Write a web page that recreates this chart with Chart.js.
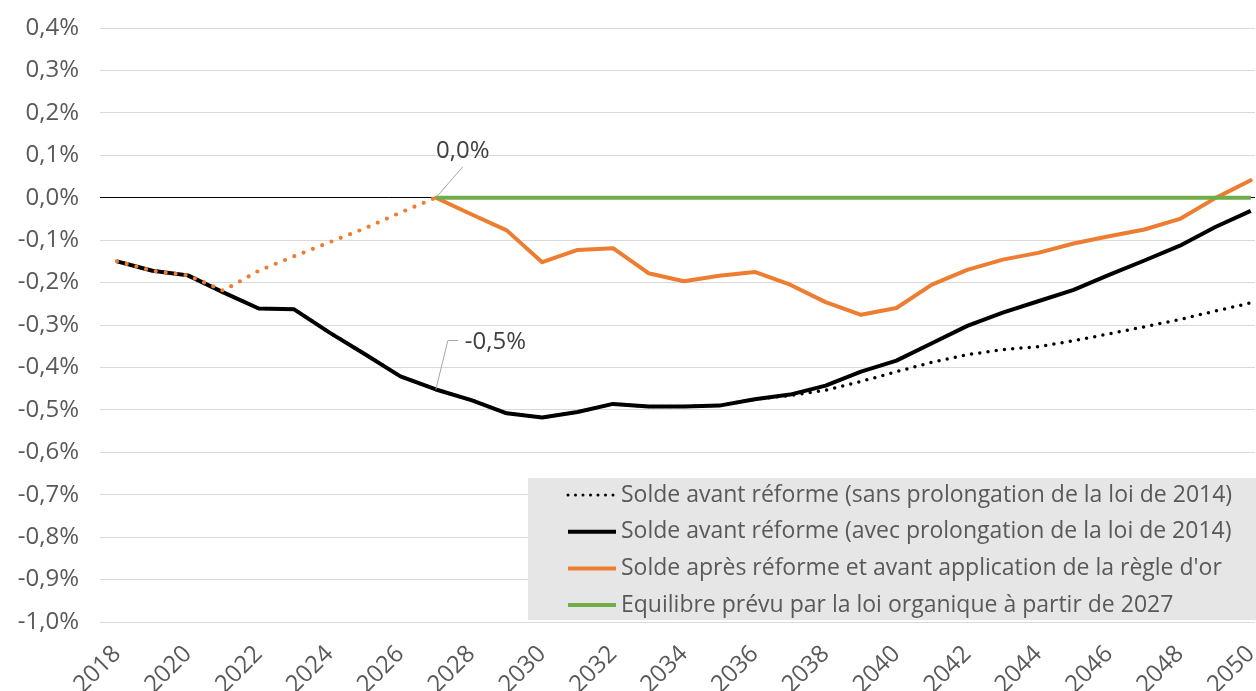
<!DOCTYPE html>
<html lang="fr">
<head>
<meta charset="utf-8">
<title>Solde du système de retraite</title>
<script src="https://cdn.jsdelivr.net/npm/chart.js@4.4.1/dist/chart.umd.min.js"></script>
<style>
    html, body { margin: 0; padding: 0; background: #ffffff; }
</style>
</head>
<body>
<canvas id="soldeChart" width="1256" height="691"></canvas>
<script>
// Solde en % du PIB, 2018-2050
const years = [2018, 2019, 2020, 2021, 2022, 2023, 2024, 2025, 2026, 2027, 2028, 2029, 2030,
    2031, 2032, 2033, 2034, 2035, 2036, 2037, 2038, 2039, 2040, 2041, 2042, 2043, 2044,
    2045, 2046, 2047, 2048, 2049, 2050];

const soldeSansProlongation = [-0.150, -0.172, -0.183, -0.223, -0.261, -0.263, -0.318, -0.369,
    -0.421, -0.452, -0.477, -0.508, -0.518, -0.505, -0.486, -0.492, -0.492, -0.490, -0.475,
    -0.466, -0.454, -0.433, -0.410, -0.388, -0.370, -0.358, -0.351, -0.337, -0.321, -0.304,
    -0.287, -0.267, -0.248];

const soldeAvecProlongation = [-0.150, -0.172, -0.183, -0.223, -0.261, -0.263, -0.318, -0.369,
    -0.421, -0.452, -0.477, -0.508, -0.518, -0.505, -0.486, -0.492, -0.492, -0.490, -0.475,
    -0.464, -0.443, -0.410, -0.384, -0.343, -0.302, -0.271, -0.244, -0.217, -0.182, -0.148,
    -0.113, -0.069, -0.031];

const soldeApresReforme = [-0.150, -0.172, -0.183, -0.219, -0.172, -0.138, -0.105, -0.072,
    -0.035, 0.000, -0.039, -0.077, -0.152, -0.123, -0.119, -0.178, -0.197, -0.184, -0.175,
    -0.205, -0.246, -0.276, -0.260, -0.205, -0.170, -0.146, -0.130, -0.108, -0.091, -0.075,
    -0.050, -0.001, 0.041];

const equilibreLoiOrganique = [null, null, null, null, null, null, null, null, null,
    0, 0, 0, 0, 0, 0, 0, 0, 0, 0, 0, 0, 0, 0, 0, 0, 0, 0, 0, 0, 0, 0, 0, 0];

const seriesLabels = [
    'Solde avant réforme (sans prolongation de la loi de 2014)',
    'Solde avant réforme (avec prolongation de la loi de 2014)',
    'Solde après réforme et avant application de la règle d\'or',
    'Equilibre prévu par la loi organique à partir de 2027'
];

// the orange series is dotted until the rule starts applying
const regleOrYear = 2027;

const FONT = '"Open Sans", Lato, sans-serif';
const TEXT_GREY = '#595959';

const toPoints = (values) => years.map((yr, i) => ({ x: yr, y: values[i] }));

const formatPct = (v) => {
    if (Math.abs(v) < 1e-9) v = 0;
    return v.toFixed(1).replace('.', ',') + '%';
};

// little leader-line labels on two points
const calloutPlugin = {
    id: 'callouts',
    afterDatasetsDraw(chart) {
        const { ctx, scales: { x, y } } = chart;
        const i = years.indexOf(regleOrYear);

        ctx.save();
        ctx.strokeStyle = '#a6a6a6';
        ctx.lineWidth = 1;
        ctx.fillStyle = '#404040';
        ctx.font = '24px ' + FONT;

        // orange point
        let px = x.getPixelForValue(years[i]);
        let py = y.getPixelForValue(soldeApresReforme[i]);
        ctx.beginPath();
        ctx.moveTo(px, py);
        ctx.lineTo(px + 27, py - 31);
        ctx.stroke();
        ctx.textAlign = 'center';
        ctx.textBaseline = 'middle';
        ctx.fillText(formatPct(soldeApresReforme[i]), px + 27, py - 47);

        // black point
        px = x.getPixelForValue(years[i]);
        py = y.getPixelForValue(soldeAvecProlongation[i]);
        ctx.beginPath();
        ctx.moveTo(px, py);
        ctx.lineTo(px + 12, py - 49);
        ctx.lineTo(px + 22, py - 49);
        ctx.stroke();
        ctx.textAlign = 'left';
        ctx.fillText(formatPct(soldeAvecProlongation[i]), px + 29, py - 47);
        ctx.restore();
    }
};

// grey legend box sitting inside the plot area
const legendBoxPlugin = {
    id: 'legendBox',
    afterDraw(chart) {
        const { ctx } = chart;
        const boxLeft = 528, boxTop = 478, boxRight = 1256, boxBottom = 620;
        ctx.save();
        ctx.fillStyle = '#e6e6e6';
        ctx.fillRect(boxLeft, boxTop, boxRight - boxLeft, boxBottom - boxTop);

        ctx.font = '23px ' + FONT;
        ctx.textAlign = 'left';
        ctx.textBaseline = 'middle';
        chart.data.datasets.forEach((ds, k) => {
            const rowY = 495 + k * 36.7;
            ctx.beginPath();
            ctx.strokeStyle = ds.borderColor;
            ctx.lineWidth = k === 0 ? 3 : 4;
            ctx.lineCap = k === 0 ? 'round' : 'butt';
            ctx.setLineDash(k === 0 ? [0, 7.5] : []);
            ctx.moveTo(568, rowY);
            ctx.lineTo(616, rowY);
            ctx.stroke();
            ctx.setLineDash([]);
            ctx.fillStyle = TEXT_GREY;
            ctx.fillText(ds.label, 621, rowY);
        });
        ctx.restore();
    }
};

const ctx = document.getElementById('soldeChart').getContext('2d');

new Chart(ctx, {
    type: 'line',
    data: {
        datasets: [{
            label: seriesLabels[0],
            data: toPoints(soldeSansProlongation),
            borderColor: '#000000',
            borderWidth: 3.5,
            borderDash: [0, 8.3],
            borderCapStyle: 'round',
            order: 3
        }, {
            label: seriesLabels[1],
            data: toPoints(soldeAvecProlongation),
            borderColor: '#000000',
            borderWidth: 4,
            order: 2
        }, {
            label: seriesLabels[2],
            data: toPoints(soldeApresReforme),
            borderColor: '#ED7D31',
            borderWidth: 4,
            borderCapStyle: 'round',
            segment: {
                borderDash: c => years[c.p1DataIndex] <= regleOrYear ? [0, 10] : undefined,
                borderWidth: c => years[c.p1DataIndex] <= regleOrYear ? 4.2 : undefined
            },
            order: 1
        }, {
            label: seriesLabels[3],
            data: toPoints(equilibreLoiOrganique),
            borderColor: '#70AD47',
            borderWidth: 4,
            order: 0
        }]
    },
    options: {
        responsive: false,
        animation: false,
        layout: { padding: { top: 28, right: 1, left: 0, bottom: 0 } },
        elements: {
            point: { radius: 0, hoverRadius: 0 },
            line: { tension: 0, borderJoinStyle: 'round' }
        },
        plugins: {
            legend: { display: false },
            tooltip: { enabled: false }
        },
        scales: {
            x: {
                type: 'linear',
                min: years[0] - 0.48,
                max: years[years.length - 1] + 0.12,
                grid: { display: false, drawTicks: false },
                border: { display: false },
                afterBuildTicks: (scale) => {
                    scale.ticks = years.filter(yr => yr % 2 === 0).map(v => ({ value: v }));
                },
                afterFit: (scale) => {
                    scale.height = 69;
                    scale.paddingLeft = 0;
                    scale.paddingRight = 0;
                },
                ticks: {
                    autoSkip: false,
                    minRotation: 45,
                    maxRotation: 45,
                    padding: 18,
                    color: TEXT_GREY,
                    font: { family: FONT, size: 24 },
                    callback: (v) => String(v)
                }
            },
            y: {
                min: -1.0,
                max: 0.4,
                grid: {
                    drawTicks: false,
                    color: c => Math.abs(c.tick.value) < 1e-9 ? '#000000' : '#d9d9d9',
                    lineWidth: 1
                },
                border: { display: false },
                afterFit: (scale) => {
                    scale.width = 100;
                    scale.paddingTop = 0;
                    scale.paddingBottom = 0;
                },
                ticks: {
                    stepSize: 0.1,
                    padding: 21,
                    color: TEXT_GREY,
                    font: { family: FONT, size: 24 },
                    callback: (v) => formatPct(v)
                }
            }
        }
    },
    plugins: [calloutPlugin, legendBoxPlugin]
});
</script>
</body>
</html>
